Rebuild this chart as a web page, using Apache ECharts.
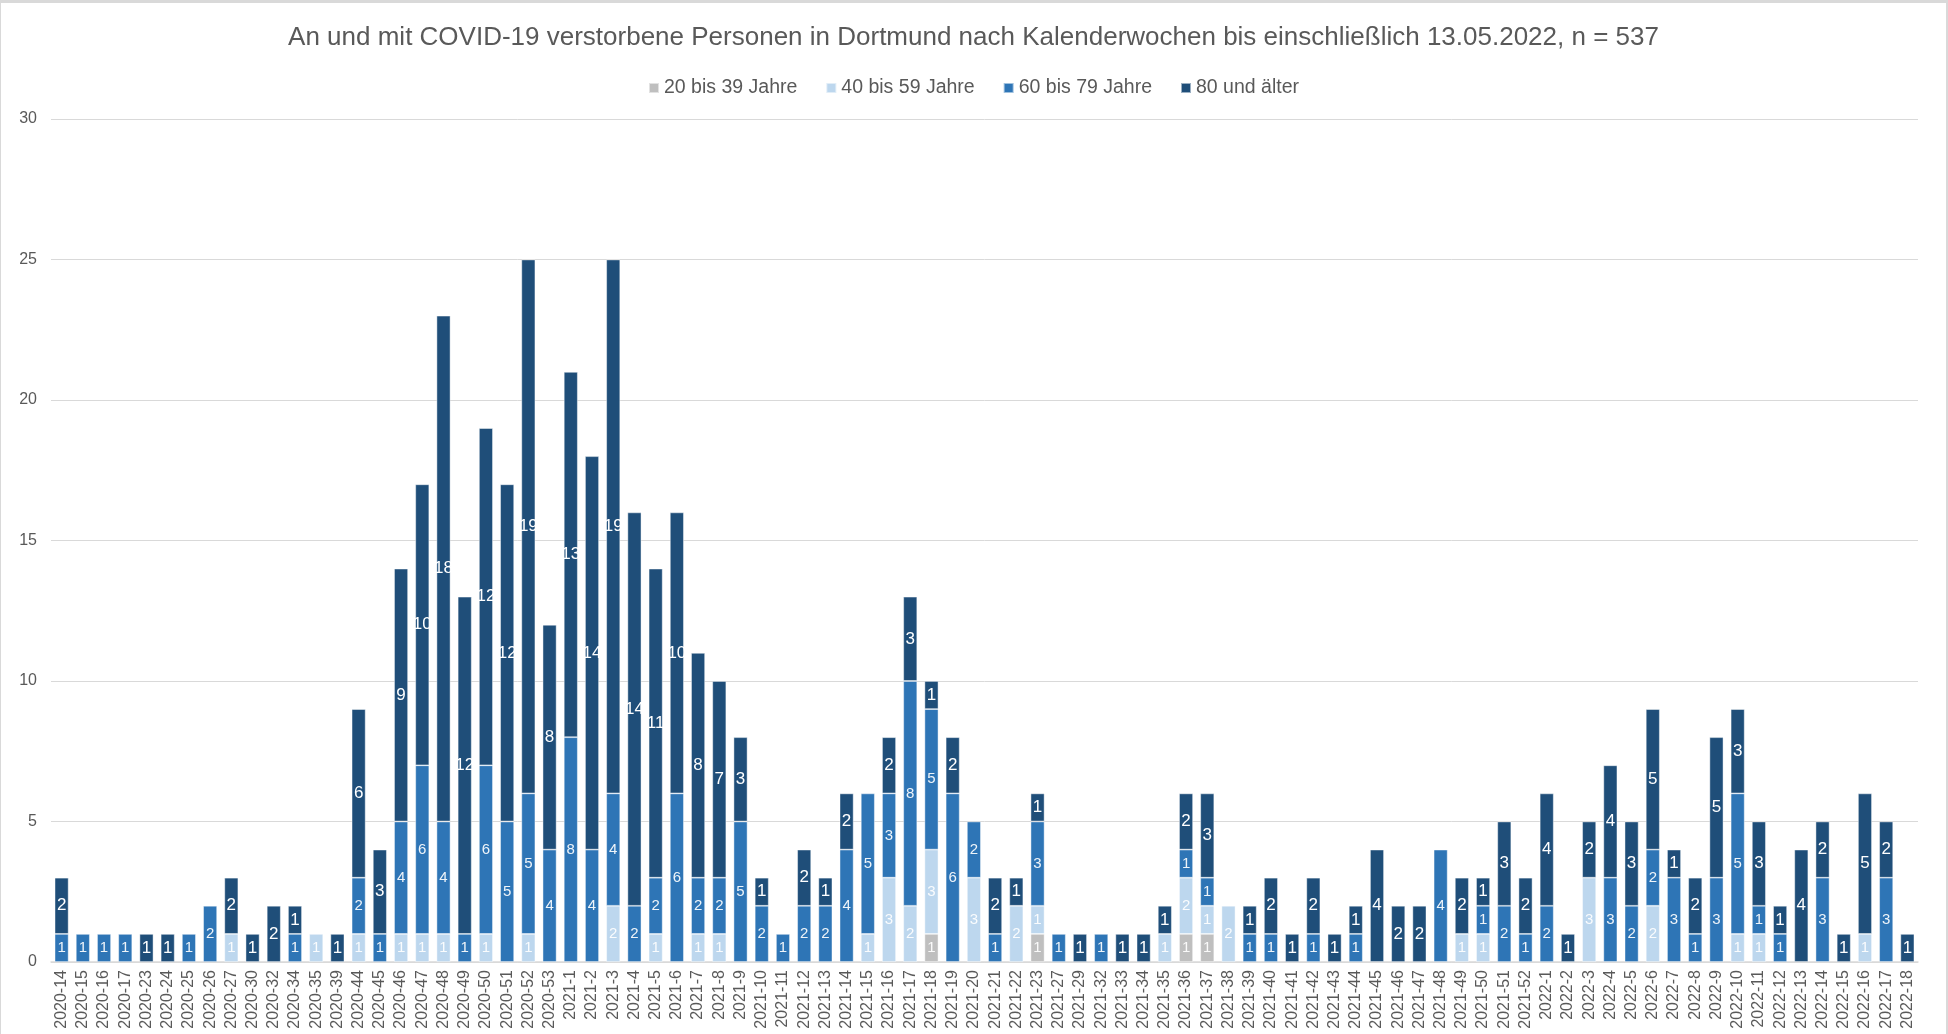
<!DOCTYPE html>
<html>
<head>
<meta charset="utf-8">
<script src="https://cdn.jsdelivr.net/npm/echarts@6/dist/echarts.min.js"></script>
<style>
html,body{margin:0;padding:0;background:#fff;}
#chart{width:1948px;height:1034px;box-sizing:border-box;border-top:3px solid #D9D9D9;border-right:2px solid #D9D9D9;border-left:1px solid #D9D9D9;}
</style>
</head>
<body>
<div id="chart"></div>
<script>
const categories = ["2020-14","2020-15","2020-16","2020-17","2020-23","2020-24","2020-25","2020-26","2020-27","2020-30","2020-32","2020-34","2020-35","2020-39","2020-44","2020-45","2020-46","2020-47","2020-48","2020-49","2020-50","2020-51","2020-52","2020-53","2021-1","2021-2","2021-3","2021-4","2021-5","2021-6","2021-7","2021-8","2021-9","2021-10","2021-11","2021-12","2021-13","2021-14","2021-15","2021-16","2021-17","2021-18","2021-19","2021-20","2021-21","2021-22","2021-23","2021-27","2021-29","2021-32","2021-33","2021-34","2021-35","2021-36","2021-37","2021-38","2021-39","2021-40","2021-41","2021-42","2021-43","2021-44","2021-45","2021-46","2021-47","2021-48","2021-49","2021-50","2021-51","2021-52","2022-1","2022-2","2022-3","2022-4","2022-5","2022-6","2022-7","2022-8","2022-9","2022-10","2022-11","2022-12","2022-13","2022-14","2022-15","2022-16","2022-17","2022-18"];

const age20to39 = [
null,null,null,null,null,null,null,null,null,null,
null,null,null,null,null,null,null,null,null,null,
null,null,null,null,null,null,null,null,null,null,
null,null,null,null,null,null,null,null,null,null,
null,1,null,null,null,null,1,null,null,null,
null,null,null,1,1,null,null,null,null,null,
null,null,null,null,null,null,null,null,null,null,
null,null,null,null,null,null,null,null,null,null,
null,null,null,null,null,null,null,null];

const age40to59 = [
null,null,null,null,null,null,null,null,1,null,
null,null,1,null,1,null,1,1,1,null,
1,null,1,null,null,null,2,null,1,null,
1,1,null,null,null,null,null,null,1,3,
2,3,null,3,null,2,1,null,null,null,
null,null,1,2,1,2,null,null,null,null,
null,null,null,null,null,null,1,1,null,null,
null,null,3,null,null,2,null,null,null,1,
1,null,null,null,null,1,null,null];

const age60to79 = [
1,1,1,1,null,null,1,2,null,null,
null,1,null,null,2,1,4,6,4,1,
6,5,5,4,8,4,4,2,2,6,
2,2,5,2,1,2,2,4,5,3,
8,5,6,2,1,null,3,1,null,1,
null,null,null,1,1,null,1,1,null,1,
null,1,null,null,null,4,null,1,2,1,
2,null,null,3,2,2,3,1,3,5,
1,1,null,3,null,null,3,null];

const age80plus = [
2,null,null,null,1,1,null,null,2,1,
2,1,null,1,6,3,9,10,18,12,
12,12,19,8,13,14,19,14,11,10,
8,7,3,1,null,2,1,2,null,2,
3,1,2,null,2,1,1,null,1,null,
1,1,1,2,3,null,1,2,1,2,
1,1,4,2,2,null,2,1,3,2,
4,1,2,4,3,5,1,2,5,3,
3,1,4,2,1,5,2,1];

const seriesNames = ["20 bis 39 Jahre","40 bis 59 Jahre","60 bis 79 Jahre","80 und älter"];
const seriesColors = ["#BFBFBF","#BDD7EE","#2E75B6","#1F4E79"];
const seriesData = [age20to39, age40to59, age60to79, age80plus];
const yTicks = {min:0, max:30, interval:5};

const FONT = "'Liberation Sans', Arial, sans-serif";
const chart = echarts.init(document.getElementById('chart'));

const series = seriesData.map((d, i) => ({
  name: seriesNames[i],
  type: 'bar',
  stack: 'total',
  data: d,
  barCategoryGap: '34%',
  itemStyle: {color: seriesColors[i], borderColor: 'rgba(255,255,255,0.55)', borderWidth: 0.8},
  label: {
    show: true,
    position: 'inside',
    color: i === 3 ? '#FFFFFF' : 'rgba(255,255,255,0.92)',
    fontFamily: FONT,
    fontSize: i === 3 ? 17 : 15,
    formatter: p => (p.value == null ? '' : p.value)
  },
  emphasis: {disabled: true}
}));

chart.setOption({
  animation: false,
  backgroundColor: '#fff',
  title: {
    text: 'An und mit COVID-19 verstorbene Personen in Dortmund nach Kalenderwochen bis einschließlich 13.05.2022, n = 537',
    left: 'center',
    top: 17,
    textStyle: {color: '#595959', fontFamily: FONT, fontSize: 26, fontWeight: 'normal'}
  },
  legend: {
    top: 70,
    left: 'center',
    itemWidth: 10,
    itemHeight: 10,
    itemGap: 28,
    icon: 'rect',
    textStyle: {color: '#595959', fontFamily: FONT, fontSize: 19.5},
    data: seriesNames
  },
  grid: {left: 50, right: 28, top: 116, bottom: 72, containLabel: false},
  xAxis: {
    type: 'category',
    data: categories,
    axisTick: {show: false},
    axisLine: {lineStyle: {color: '#D9D9D9', width: 1.5}},
    axisLabel: {interval: 0, rotate: 90, color: '#595959', fontFamily: FONT, fontSize: 16, margin: 8}
  },
  yAxis: {
    type: 'value',
    min: yTicks.min, max: yTicks.max, interval: yTicks.interval,
    axisLine: {show: false},
    axisTick: {show: false},
    splitLine: {lineStyle: {color: '#D9D9D9', width: 1}},
    axisLabel: {color: '#595959', fontFamily: FONT, fontSize: 16, margin: 14}
  },
  series: series
});
</script>
</body>
</html>
